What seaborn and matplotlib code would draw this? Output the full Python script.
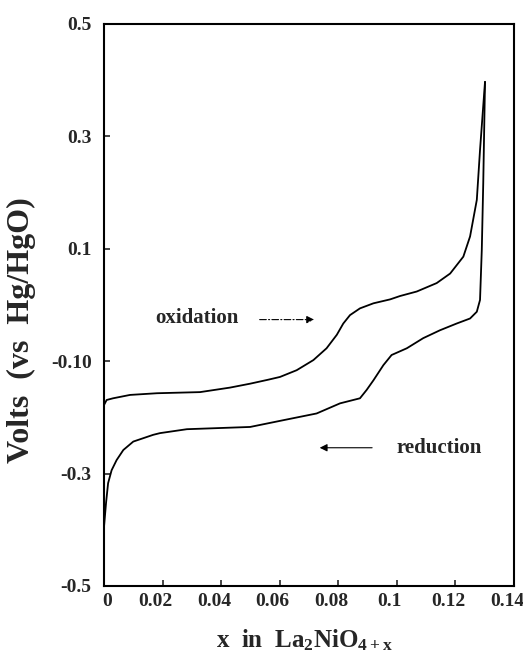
import matplotlib
matplotlib.use("Agg")
import matplotlib.pyplot as plt
import matplotlib.transforms as mtransforms
import seaborn as sns
import pandas as pd

# ---- data ----
ox_x = [0.0000, 0.0009, 0.0031, 0.0089, 0.0181, 0.0328, 0.0430, 0.0499, 0.0560,
        0.0601, 0.0658, 0.0715, 0.0760, 0.0795, 0.0817, 0.0840, 0.0874, 0.0920,
        0.0977, 0.1011, 0.1068, 0.1136, 0.1182, 0.1227, 0.1250, 0.1273, 0.1284,
        0.1301]
ox_y = [-0.178, -0.169, -0.166, -0.160, -0.157, -0.155, -0.147, -0.140, -0.133,
        -0.128, -0.116, -0.098, -0.077, -0.053, -0.033, -0.018, -0.006, 0.003,
        0.010, 0.016, 0.024, 0.039, 0.056, 0.086, 0.122, 0.187, 0.276,
        0.397]

red_x = [0.1301, 0.1295, 0.1290, 0.1284, 0.1273, 0.1250, 0.1204, 0.1147, 0.1090,
         0.1034, 0.0982, 0.0954, 0.0920, 0.0897, 0.0874, 0.0806, 0.0726, 0.0612,
         0.0499, 0.0283, 0.0191, 0.0168, 0.0134, 0.0100, 0.0066, 0.0043, 0.0026,
         0.0014, 0.0007, 0.0000]
red_y = [0.397, 0.217, 0.098, 0.009, -0.012, -0.024, -0.033, -0.045, -0.059,
         -0.077, -0.089, -0.107, -0.134, -0.151, -0.166, -0.175, -0.193, -0.205,
         -0.217, -0.221, -0.228, -0.231, -0.237, -0.243, -0.258, -0.276, -0.294,
         -0.317, -0.352, -0.395]

x_ticks = [0, 0.02, 0.04, 0.06, 0.08, 0.1, 0.12, 0.14]
x_tick_labels = ["0", "0.02", "0.04", "0.06", "0.08", "0.1", "0.12", "0.14"]
y_ticks = [0.5, 0.3, 0.1, -0.1, -0.3, -0.5]
y_tick_labels = ["0.5", "0.3", "0.1", "-0.10", "-0.3", "-0.5"]

ox_df = pd.DataFrame({"x": ox_x, "v": ox_y})
red_df = pd.DataFrame({"x": red_x, "v": red_y})

sns.set_style("ticks")
plt.rcParams["font.family"] = ["Liberation Serif", "DejaVu Serif"]
plt.rcParams["font.weight"] = "bold"
plt.rcParams["mathtext.fontset"] = "custom"
plt.rcParams["mathtext.rm"] = "Liberation Serif:bold"
plt.rcParams["mathtext.it"] = "Liberation Serif:bold"
plt.rcParams["mathtext.bf"] = "Liberation Serif:bold"

fig = plt.figure(figsize=(5.23, 6.62), dpi=100)
ax = fig.add_axes([104 / 523, 1 - 586 / 662, 410 / 523, 562 / 662])

sns.lineplot(data=ox_df, x="x", y="v", sort=False, estimator=None, color="black",
             linewidth=1.3, ax=ax)
sns.lineplot(data=red_df, x="x", y="v", sort=False, estimator=None, color="black",
             linewidth=1.3, ax=ax)

ax.set_xlim(0, 0.14)
ax.set_ylim(-0.5, 0.5)
ax.set_xticks(x_ticks)
ax.set_xticklabels(x_tick_labels)
ax.set_yticks(y_ticks)
ax.set_yticklabels(y_tick_labels)
ax.tick_params(direction="in", length=4, width=1.2, labelsize=14)
ax.tick_params(axis="x", pad=5)
ax.tick_params(axis="y", pad=9)
for lab in ax.get_xticklabels() + ax.get_yticklabels():
    lab.set_fontweight("bold")

# shift x tick labels slightly as in the reference
for i, lab in enumerate(ax.get_xticklabels()):
    dx_px = 3 if i == 0 else -7
    lab.set_transform(lab.get_transform() +
                      mtransforms.ScaledTranslation(dx_px / 100, 0, fig.dpi_scale_trans))

for sp in ax.spines.values():
    sp.set_linewidth(1.5)
    sp.set_color("black")

ax.set_xlabel(r"x  in  La$_{\mathrm{2}}$NiO$_{\mathrm{4+x}}$", fontsize=18,
              fontweight="bold")
ax.set_ylabel("Volts  (vs  Hg/HgO)", fontsize=23, fontweight="bold")
ax.xaxis.set_label_coords(0.49, -0.074)
ax.yaxis.set_label_coords(-0.165, 0.455)

ax.text(0.0318, -0.023, "oxidation", fontsize=15, fontweight="bold",
        ha="center", va="center")
ax.annotate("", xy=(0.0727, -0.026), xytext=(0.0522, -0.026),
            arrowprops=dict(arrowstyle="-|>", color="black", lw=0.8,
                            linestyle=(0, (6, 2, 1, 2)), mutation_scale=11))
ax.text(0.1145, -0.254, "reduction", fontsize=15, fontweight="bold",
        ha="center", va="center")
ax.annotate("", xy=(0.0727, -0.254), xytext=(0.0925, -0.254),
            arrowprops=dict(arrowstyle="-|>", color="black", lw=0.8,
                            mutation_scale=11))

fig.savefig("out.png", dpi=100)
